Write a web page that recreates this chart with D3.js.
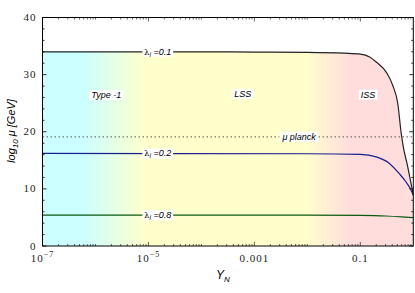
<!DOCTYPE html>
<html><head><meta charset="utf-8">
<script src="https://cdn.jsdelivr.net/npm/d3@7"></script>
<style>body{margin:0;background:#fff}</style>
</head><body><svg id="c" width="415" height="293"></svg>
<script>
// ---- data ----
const xTicks = [1e-7, 1e-5, 1e-3, 0.1];
const xTickBase = ["10", "10", "0.001", "0.1"];
const xTickExp = ["\u22127", "\u22125", "", ""];
const yTicks = [0, 10, 20, 30, 40];

const blackX = [1e-7, 1e-4, 1e-3, 0.01, 0.05, 0.1, 0.15, 0.2, 0.31, 0.41, 0.51, 0.59, 0.64, 0.78, 0.94, 1];
const blackY = [34.0, 34.0, 33.95, 33.9, 33.75, 33.6, 33.1, 32.2, 30.4, 28.1, 24.9, 19.8, 17.6, 14.0, 10.2, 8.9];
const blueX = [1e-7, 0.01, 0.1, 0.2, 0.35, 0.54, 0.73, 0.87, 1];
const blueY = [16.2, 16.15, 16.05, 15.6, 14.5, 12.7, 11.2, 10.1, 8.9];
const greenX = [1e-7, 0.01, 0.1, 0.3, 0.6, 1];
const greenY = [5.4, 5.4, 5.35, 5.25, 5.1, 4.95];
const planck = 19.1;

const regionNames = ["Type -1", "LSS", "ISS"];
const regionX = [1.6e-6, 6e-4, 0.14];
const regionY = [26.4, 26.6, 26.5];
const lambdaNames = ["0.1", "0.2", "0.8"];
const lambdaX = 1.5e-5;

// ---- layout ----
const L = 42.5, R = 413.3, T = 17.5, B = 246;
const svg = d3.select("#c");
const x = d3.scaleLog().domain([1e-7, 1]).range([L, R]);
const y = d3.scaleLinear().domain([0, 40]).range([B, T]);

// gradient
const defs = svg.append("defs");
const g = defs.append("linearGradient").attr("id", "bg")
  .attr("gradientUnits", "userSpaceOnUse")
  .attr("x1", L).attr("x2", R).attr("y1", 0).attr("y2", 0);
const stops = [[6e-7, "#ccffff"], [9e-6, "#ffffcc"], [0.009, "#ffffcc"], [0.065, "#ffdddd"]];
stops.forEach(([v, c]) => g.append("stop").attr("offset", (x(v) - L) / (R - L)).attr("stop-color", c));

defs.append("clipPath").attr("id", "clip").append("rect")
  .attr("x", L).attr("y", T).attr("width", R - L).attr("height", B - T);

const plot = svg.append("g").attr("clip-path", "url(#clip)");
const blackData = blackX.map((v, i) => [v, blackY[i]]);
plot.append("path").datum(blackData)
  .attr("d", d3.area().x(d => x(d[0])).y0(y(0)).y1(d => y(d[1])).curve(d3.curveMonotoneX))
  .attr("fill", "url(#bg)");

// planck dotted line
plot.append("line").attr("x1", L).attr("x2", R).attr("y1", y(planck)).attr("y2", y(planck))
  .attr("stroke", "#555").attr("stroke-width", 1).attr("stroke-dasharray", "1.5,2.5");

const line = d3.line().x(d => x(d[0])).y(d => y(d[1])).curve(d3.curveMonotoneX);
plot.append("path").datum(greenX.map((v, i) => [v, greenY[i]])).attr("d", line)
  .attr("fill", "none").attr("stroke", "#0b5a12").attr("stroke-width", 1.2);
plot.append("path").datum(blueX.map((v, i) => [v, blueY[i]])).attr("d", line)
  .attr("fill", "none").attr("stroke", "#1a1f8f").attr("stroke-width", 1.2);
plot.append("path").datum(blackData).attr("d", line)
  .attr("fill", "none").attr("stroke", "#222").attr("stroke-width", 1.2);

// labels with white boxes
function boxLabel(cx, cy, build) {
  const gg = svg.append("g");
  const rect = gg.append("rect").attr("fill", "#fff");
  const t = gg.append("text").attr("x", cx).attr("y", cy).attr("text-anchor", "middle")
    .attr("dominant-baseline", "central")
    .style("font-family", "Liberation Sans, Arial, sans-serif").style("font-style", "italic")
    .style("font-size", "9px").attr("fill", "#000");
  build(t);
  const bb = t.node().getBBox();
  rect.attr("x", bb.x - 2).attr("y", cy - 5).attr("width", bb.width + 4).attr("height", 10);
}
regionNames.forEach((n, i) => boxLabel(x(regionX[i]), y(regionY[i]), t => t.text(n)));
boxLabel(x(0.007), y(planck), t => { t.text("\u03bc planck"); });
const lamY = [blackY[0], blueY[0], greenY[0]];
lambdaNames.forEach((n, i) => boxLabel(x(lambdaX), y(lamY[i]), t => {
  t.append("tspan").text("\u03bb").style("font-style", "normal").style("font-family", "DejaVu Serif, serif").style("font-size", "8px");
  t.append("tspan").text("i").attr("dy", 2).style("font-size", "6.5px");
  t.append("tspan").text(" =" + n).attr("dy", -2);
}));

// frame
svg.append("rect").attr("x", L).attr("y", T).attr("width", R - L).attr("height", B - T)
  .attr("fill", "none").attr("stroke", "#000").attr("stroke-width", 1);

// y ticks (left & right)
const yMinor = d3.range(0, 41, 2);
yMinor.forEach(v => {
  const len = v % 10 === 0 ? 4 : 2;
  svg.append("line").attr("x1", L).attr("x2", L + len).attr("y1", y(v)).attr("y2", y(v)).attr("stroke", "#000").attr("stroke-width", 0.8);
  svg.append("line").attr("x1", R).attr("x2", R - len).attr("y1", y(v)).attr("y2", y(v)).attr("stroke", "#000").attr("stroke-width", 0.8);
});
svg.selectAll(".yl").data(yTicks).enter().append("text")
  .attr("x", L - 6).attr("y", d => y(d) + 3.5).attr("text-anchor", "end")
  .style("font-family", "Liberation Serif, Times New Roman, serif").style("font-size", "11px")
  .style("letter-spacing", "1px").attr("fill", "#222").text(d => d);

// x ticks (bottom & top)
const xMinor = [];
for (let e = -7; e < 0; e++) for (let k = 1; k < 10; k++) xMinor.push([k * Math.pow(10, e), k === 1 && (e % 2 !== 0)]);
xMinor.forEach(([v, major]) => {
  if (x(v) > R + 0.1) return;
  const len = major ? 4 : 2;
  svg.append("line").attr("x1", x(v)).attr("x2", x(v)).attr("y1", B).attr("y2", B - len).attr("stroke", "#000").attr("stroke-width", 0.6);
  svg.append("line").attr("x1", x(v)).attr("x2", x(v)).attr("y1", T).attr("y2", T + len).attr("stroke", "#000").attr("stroke-width", 0.6);
});
xTicks.forEach((v, i) => {
  const t = svg.append("text").attr("x", x(v)).attr("y", 262).attr("text-anchor", "middle").attr("fill", "#222")
    .style("font-family", "Liberation Serif, Times New Roman, serif").style("font-size", "11px").style("letter-spacing", "1px");
  t.append("tspan").text(xTickBase[i]);
  if (xTickExp[i]) t.append("tspan").text(xTickExp[i]).attr("dy", -5).style("font-size", "8px");
});

// axis titles
const xt = svg.append("text").attr("x", 223).attr("y", 279).attr("text-anchor", "middle")
  .style("font-family", "Liberation Sans, Arial, sans-serif").style("font-style", "italic").style("font-size", "12px");
xt.append("tspan").text("Y");
xt.append("tspan").text("N").attr("dy", 3).style("font-size", "8px");

const yt = svg.append("text").attr("transform", "translate(15,131) rotate(-90)").attr("text-anchor", "middle")
  .style("font-family", "Liberation Sans, Arial, sans-serif").style("font-style", "italic").style("font-size", "11px");
yt.append("tspan").text("log");
yt.append("tspan").text("10").attr("dy", 3).style("font-size", "8px");
yt.append("tspan").text(" \u03bc  ").attr("dy", -3);
yt.append("tspan").text("[GeV]");
</script></body></html>
